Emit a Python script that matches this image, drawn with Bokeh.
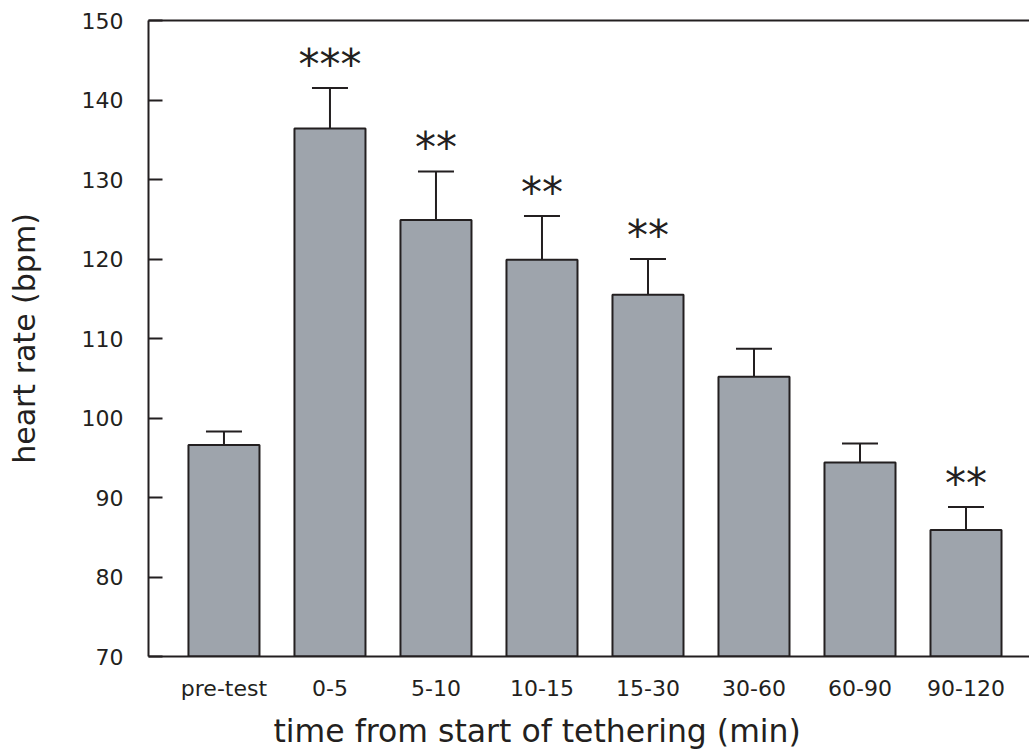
from bokeh.plotting import figure
from bokeh.models import Range1d, FixedTicker, Whisker, TeeHead, ColumnDataSource, Title, LinearAxis
from bokeh.core.properties import value
from bokeh.embed import file_html
from bokeh.resources import INLINE

categories = ["pre-test", "0-5", "5-10", "10-15", "15-30", "30-60", "60-90", "90-120"]
heart_rate = [96.6, 136.4, 124.9, 119.9, 115.5, 105.2, 94.4, 85.9]
sem = [1.7, 5.1, 6.1, 5.5, 4.5, 3.5, 2.4, 2.9]
significance = ["", "***", "**", "**", "**", "", "", "**"]
y_ticks = [70, 80, 90, 100, 110, 120, 130, 140, 150]

INK = "#231f20"
FONT = "DejaVu Sans"

idx = list(range(len(categories)))
upper = [h + s for h, s in zip(heart_rate, sem)]

src = ColumnDataSource(dict(x=idx, top=heart_rate, upper=upper, sig=significance))

p = figure(width=1029, height=756, output_backend="svg", toolbar_location=None,
           x_range=Range1d(-0.712, 7.599), y_range=Range1d(70, 150),
           min_border_left=148, min_border_right=0, min_border_top=20, min_border_bottom=99)
p.outline_line_color = None
p.xgrid.visible = False
p.ygrid.visible = False
p.background_fill_color = "white"
p.border_fill_color = "white"

p.vbar(x="x", top="top", bottom=70, width=0.67, source=src,
       fill_color="#9ea4ac", line_color=INK, line_width=2)

wh = Whisker(base="x", lower="top", upper="upper", source=src,
             line_color=INK, line_width=2,
             upper_head=TeeHead(size=36, line_color=INK, line_width=2),
             lower_head=None)
p.add_layout(wh)

p.text(x="x", y="upper", text="sig", source=src, text_align="center", text_baseline="middle",
       y_offset=-24, text_font=value(FONT), text_font_size="42px", text_color=INK)

# top frame line
top_axis = LinearAxis(ticker=FixedTicker(ticks=[]), major_tick_in=0, major_tick_out=0,
                      minor_tick_line_color=None, major_label_text_font_size="0px",
                      axis_line_color=INK, axis_line_width=2)
p.add_layout(top_axis, "above")

# y axis
ya = p.yaxis[0]
ya.ticker = FixedTicker(ticks=y_ticks)
ya.major_tick_in = 14
ya.major_tick_out = 0
ya.minor_tick_line_color = None
ya.axis_line_width = 2
ya.axis_line_color = INK
ya.major_tick_line_width = 2
ya.major_tick_line_color = INK
ya.major_label_standoff = 25
ya.major_label_text_font = FONT
ya.major_label_text_font_size = "22px"
ya.major_label_text_color = INK
ya.axis_label = "heart rate (bpm)"
ya.axis_label_text_font = FONT
ya.axis_label_text_font_size = "30px"
ya.axis_label_text_font_style = "normal"
ya.axis_label_text_color = INK
ya.axis_label_standoff = 37

# x axis
xa = p.below[0]
xa.ticker = FixedTicker(ticks=idx)
xa.major_label_overrides = {i: c for i, c in zip(idx, categories)}
xa.major_tick_in = 0
xa.major_tick_out = 0
xa.major_tick_line_color = None
xa.minor_tick_line_color = None
xa.axis_line_width = 2
xa.axis_line_color = INK
xa.major_label_standoff = 19
xa.major_label_text_font = FONT
xa.major_label_text_font_size = "22px"
xa.major_label_text_color = INK

p.add_layout(Title(text="time from start of tethering (min)", align="left", offset=125,
                   text_font=FONT, text_font_size="31.5px", text_font_style="normal",
                   text_color=INK, standoff=15), "below")

open("out.html", "w").write(file_html(p, INLINE))
